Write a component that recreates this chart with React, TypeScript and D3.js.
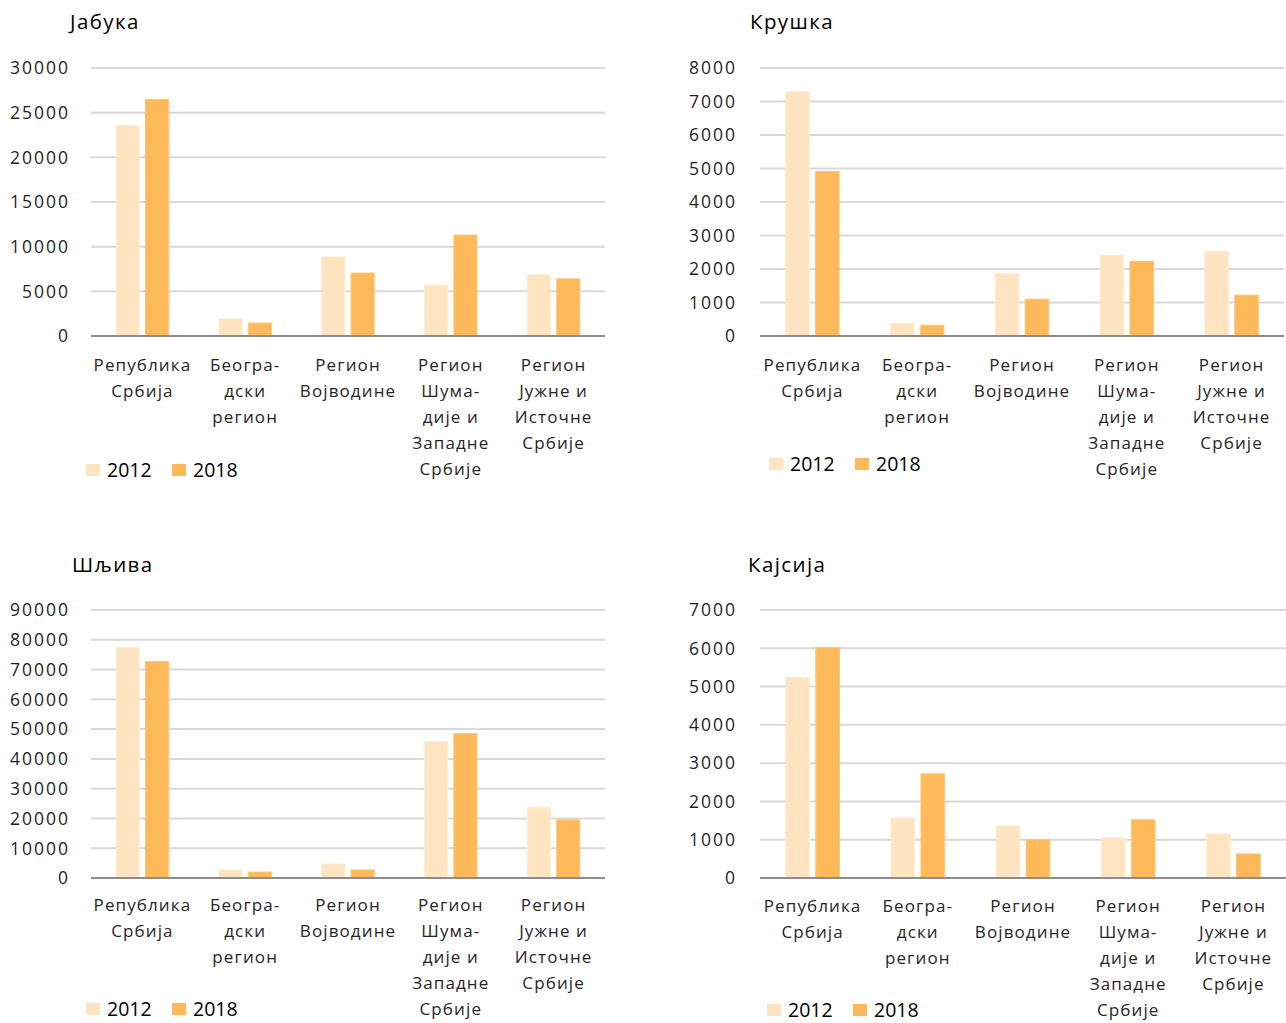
import * as d3 from 'd3'

const categories: string[][] = [
  ['Република', 'Србија'],
  ['Београ-', 'дски', 'регион'],
  ['Регион', 'Војводине'],
  ['Регион', 'Шума-', 'дије и', 'Западне', 'Србије'],
  ['Регион', 'Јужне и', 'Источне', 'Србије'],
]
const years = ['2012', '2018']

const titles = ['Јабука', 'Крушка', 'Шљива', 'Кајсија']
const yMax = [30000, 8000, 90000, 7000]
const yStep = [5000, 1000, 10000, 1000]

const apple2012 = [23600, 1900, 8850, 5700, 6850]
const apple2018 = [26500, 1450, 7050, 11300, 6400]
const pear2012 = [7290, 380, 1870, 2410, 2530]
const pear2018 = [4910, 320, 1100, 2230, 1220]
const plum2012 = [77400, 2700, 4700, 45800, 23600]
const plum2018 = [72700, 2000, 2700, 48500, 19500]
const apricot2012 = [5240, 1570, 1360, 1050, 1150]
const apricot2018 = [6020, 2720, 1000, 1520, 630]

const seriesByPanel = [
  [apple2012, apple2018],
  [pear2012, pear2018],
  [plum2012, plum2018],
  [apricot2012, apricot2018],
]

const colors = ['#FFE4C1', '#FDB95A']
const FONT = '"Open Sans", "Noto Sans", sans-serif'

// panel placement on the page
const layout = [
  { x0: 91, x1: 605, top: 68, bottom: 336, tx: 70, ty: 29, tickX: 70, labelY: 371, lx: 86, ly: 470 },
  { x0: 760, x1: 1284, top: 68, bottom: 336, tx: 750, ty: 29, tickX: 737, labelY: 371, lx: 769, ly: 464 },
  { x0: 91, x1: 605, top: 610, bottom: 878, tx: 72, ty: 572, tickX: 70, labelY: 911, lx: 86, ly: 1009 },
  { x0: 760, x1: 1286, top: 610, bottom: 878, tx: 748, ty: 572, tickX: 737, labelY: 912, lx: 767, ly: 1010 },
]

function Panel({ i }: { i: number }) {
  const L = layout[i]
  const x = d3.scaleBand<number>().domain(d3.range(categories.length)).range([L.x0, L.x1])
  const y = d3.scaleLinear().domain([0, yMax[i]]).range([L.bottom, L.top])
  const ticks = d3.range(0, yMax[i] + 1, yStep[i])
  const bw = x.bandwidth()
  const barW = bw * 0.225
  const gap = bw * 0.06
  const series = seriesByPanel[i]

  return (
    <g>
      <text x={L.tx} y={L.ty} fontSize={20.5} fill="#000" letterSpacing={1.4}>{titles[i]}</text>
      {ticks.map(t => (
        <g key={t}>
          {t > 0 && <line x1={L.x0} x2={L.x1} y1={y(t)} y2={y(t)} stroke="#D9D9D9" strokeWidth={2} />}
          <text x={L.tickX} y={y(t)} dy="0.36em" textAnchor="end" fontSize={17.5} fill="#1f1f1f" letterSpacing={2}>{t}</text>
        </g>
      ))}
      {categories.map((c, ci) => {
        const cx = (x(ci) ?? 0) + bw / 2
        return (
          <g key={ci}>
            {series.map((s, si) => {
              const bx = si === 0 ? cx - gap / 2 - barW : cx + gap / 2
              return (
                <rect key={si} x={bx} y={y(s[ci])} width={barW} height={y(0) - y(s[ci])}
                  fill={colors[si]} stroke={si === 0 ? '#FFEBD0' : '#FDC676'} strokeWidth={1} />
              )
            })}
            {c.map((line, li) => (
              <text key={li} x={cx} y={L.labelY + li * 26} textAnchor="middle" fontSize={17} fill="#262626" letterSpacing={1.1}>{line}</text>
            ))}
          </g>
        )
      })}
      <line x1={L.x0} x2={L.x1} y1={L.bottom} y2={L.bottom} stroke="#8C8C8C" strokeWidth={2} />
      {years.map((yr, yi) => (
        <g key={yr} transform={`translate(${L.lx + yi * 86},${L.ly})`}>
          <rect x={0} y={-6} width={14} height={12} fill={colors[yi]} />
          <text x={21} y={0} dy="0.36em" fontSize={19.5} fill="#000">{yr}</text>
        </g>
      ))}
    </g>
  )
}

export default function App() {
  return (
    <svg width={1286} height={1023} style={{ position: 'absolute', left: 0, top: 0, background: '#fff' }} fontFamily={FONT}>
      <rect width={1286} height={1023} fill="#fff" />
      {titles.map((_, i) => <Panel key={i} i={i} />)}
    </svg>
  )
}
